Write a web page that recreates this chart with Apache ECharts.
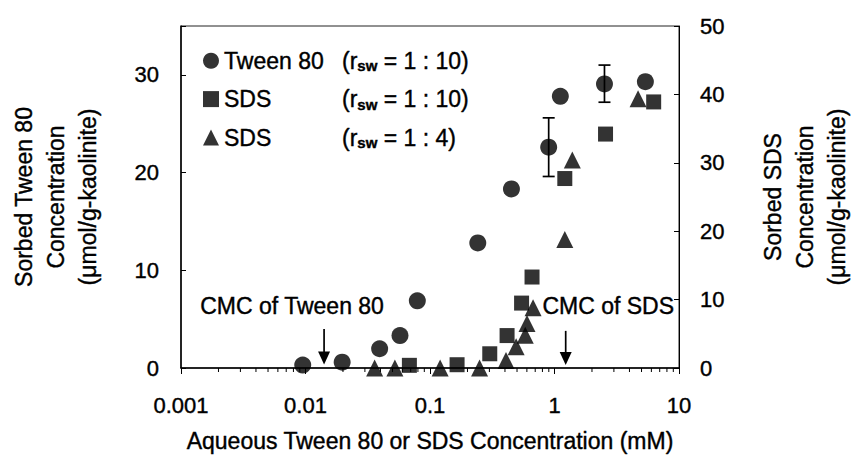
<!DOCTYPE html>
<html><head><meta charset="utf-8">
<script src="https://cdn.jsdelivr.net/npm/echarts@6/dist/echarts.min.js"></script>
<style>html,body{margin:0;padding:0;background:#fff}#c{width:861px;height:459px}</style>
</head><body><div id="c"></div>
<script>
// ---- data ----
const xTickLabels = [0.001, 0.01, 0.1, 1, 10];
const leftTicks = [0, 10, 20, 30];
const rightTicks = [0, 10, 20, 30, 40, 50];
const minorTickValues = [];
[0.001, 0.01, 0.1, 1].forEach(d => { for (let k = 2; k <= 9; k++) minorTickValues.push(+(d * k).toPrecision(3)); });

const seriesNames = ['Tween 80 (1:10)', 'SDS (1:10)', 'SDS (1:4)'];
const legendNames = ['Tween 80', 'SDS', 'SDS'];
const legendRatios = ['1 : 10', '1 : 10', '1 : 4'];

const tweenX = [0.0095, 0.0197, 0.0394, 0.0574, 0.0791, 0.242, 0.451, 0.898, 1.114, 2.52, 5.37];
const tweenY = [0.3, 0.6, 1.97, 3.32, 6.88, 12.8, 18.33, 22.6, 27.8, 29.07, 29.3];
const tweenErrX = [0.898, 2.52];
const tweenErrLow = [19.6, 27.2];
const tweenErrHigh = [25.6, 31.0];

const sds10X = [0.0683, 0.165, 0.302, 0.416, 0.544, 0.66, 1.21, 2.57, 6.26];
const sds10Y = [0.39, 0.48, 2.08, 4.74, 9.49, 13.3, 27.7, 34.2, 38.9];

const sds4X = [0.0359, 0.0522, 0.1206, 0.25, 0.408, 0.492, 0.582, 0.601, 0.673, 1.21, 1.39, 4.69];
const sds4Y = [0, 0, 0, 0, 1.1, 3.1, 4.8, 6.5, 8.8, 18.8, 30.4, 39.35];

const cmcText = ['CMC of Tween 80', 'CMC of SDS'];
const cmcX = [0.0141, 1.23];
const cmcArrowTop = [4.0, 3.8];
const cmcArrowTip = [0.35, 0.3];
const cmcTextX = [0.0078, 2.7];
const cmcTextY = [6.3, 6.3];

// ---- chart ----
const FONT = '"Liberation Sans", Arial, Helvetica, sans-serif';
const FS = 23;   // titles, legend, annotations
const TS = 22;   // tick labels
const TB = {textBorderColor: '#000', textBorderWidth: 0.4};
const chart = echarts.init(document.getElementById('c'), null, {renderer: 'svg'});

const zip = (a, b) => a.map((v, i) => [v, b[i]]);

chart.setOption({
  animation: false,
  backgroundColor: '#fff',
  textStyle: {fontFamily: FONT, color: '#000'},
  grid: {left: 170, right: 164, top: 26, bottom: 91, show: true, borderColor: '#222', borderWidth: 1},
  legend: {
    orient: 'vertical', left: 198, top: 44, itemGap: 14, itemWidth: 16, itemHeight: 16,
    data: seriesNames,
    formatter: name => {
      const i = seriesNames.indexOf(name);
      return `{n|${legendNames[i]}}{p|(r}{s|sw}{p| = ${legendRatios[i]})}`;
    },
    textStyle: Object.assign({
      fontFamily: FONT, fontSize: FS, color: '#000',
      rich: {
        n: Object.assign({fontFamily: FONT, fontSize: FS, width: 118, color: '#000'}, TB),
        p: Object.assign({fontFamily: FONT, fontSize: FS, color: '#000'}, TB),
        s: {fontFamily: FONT, fontSize: 15, fontWeight: 'bold', color: '#000', padding: [10, 0, 0, 0]}
      }
    }, TB)
  },
  xAxis: {
    type: 'log', logBase: 10, min: 0.001, max: 10,
    name: 'Aqueous Tween 80 or SDS Concentration (mM)', nameLocation: 'middle', nameGap: 61,
    nameTextStyle: Object.assign({fontFamily: FONT, fontSize: FS, color: '#000'}, TB),
    axisLine: {show: true, lineStyle: {color: '#000', width: 1.5}},
    axisTick: {show: true, inside: false, length: 6, lineStyle: {color: '#000', width: 1}},
    axisLabel: Object.assign({fontFamily: FONT, fontSize: TS, color: '#000', margin: 26,
      formatter: v => { const m = xTickLabels.find(t => Math.abs(t - v) / t < 1e-6); return m !== undefined ? String(m) : ''; }}, TB),
    splitLine: {show: false}
  },
  yAxis: [{
    type: 'value', min: 0, max: 35, interval: 10, position: 'left',
    name: 'Sorbed Tween 80\nConcentration\n(\u03bcmol/g-kaolinite)', nameLocation: 'middle', nameRotate: 90, nameGap: 77,
    nameTextStyle: Object.assign({fontFamily: FONT, fontSize: FS, color: '#000', lineHeight: 32}, TB),
    axisLine: {show: true, lineStyle: {color: '#000', width: 1.5}},
    axisTick: {show: true, inside: true, length: 5, lineStyle: {color: '#000'}},
    axisLabel: Object.assign({fontFamily: FONT, fontSize: TS, color: '#000', margin: 22, formatter: v => leftTicks.includes(v) ? String(v) : ''}, TB),
    splitLine: {show: false}
  }, {
    type: 'value', min: 0, max: 50, interval: 10, position: 'right',
    name: 'Sorbed SDS\nConcentration\n(\u03bcmol/g-kaolinite)', nameLocation: 'middle', nameRotate: 90, nameGap: 78,
    nameTextStyle: Object.assign({fontFamily: FONT, fontSize: FS, color: '#000', lineHeight: 32}, TB),
    axisLine: {show: true, lineStyle: {color: '#000', width: 1}},
    axisTick: {show: true, inside: true, length: 5, lineStyle: {color: '#000'}},
    axisLabel: Object.assign({fontFamily: FONT, fontSize: TS, color: '#000', margin: 21, formatter: v => rightTicks.includes(v) ? String(v) : ''}, TB),
    splitLine: {show: false}
  }],
  series: [
    {
      type: 'custom', name: 'minorTicks', silent: true, yAxisIndex: 0, clip: false,
      data: minorTickValues.map(v => [v, 0]),
      renderItem: (params, api) => {
        const p = api.coord([api.value(0), 0]);
        return {type: 'line', shape: {x1: p[0], y1: p[1], x2: p[0], y2: p[1] + 4}, style: {stroke: '#000', lineWidth: 1}};
      }
    },
    {
      type: 'custom', name: 'errorBars', silent: true, yAxisIndex: 0,
      data: tweenErrX.map((x, i) => [x, tweenErrLow[i], tweenErrHigh[i]]),
      renderItem: (params, api) => {
        const lo = api.coord([api.value(0), api.value(1)]);
        const hi = api.coord([api.value(0), api.value(2)]);
        const w = 6;
        const st = {stroke: '#000', lineWidth: 1.7};
        return {type: 'group', children: [
          {type: 'line', shape: {x1: lo[0], y1: lo[1], x2: hi[0], y2: hi[1]}, style: st},
          {type: 'line', shape: {x1: lo[0] - w, y1: lo[1], x2: lo[0] + w, y2: lo[1]}, style: st},
          {type: 'line', shape: {x1: hi[0] - w, y1: hi[1], x2: hi[0] + w, y2: hi[1]}, style: st}
        ]};
      }
    },
    {
      type: 'scatter', name: seriesNames[0], yAxisIndex: 0, symbol: 'circle', symbolSize: 17,
      itemStyle: {color: '#000'}, data: zip(tweenX, tweenY)
    },
    {
      type: 'scatter', name: seriesNames[1], yAxisIndex: 1, symbol: 'rect', symbolSize: 15,
      itemStyle: {color: '#000'}, data: zip(sds10X, sds10Y)
    },
    {
      type: 'scatter', name: seriesNames[2], yAxisIndex: 1, symbol: 'triangle', symbolSize: 17,
      itemStyle: {color: '#000'}, data: zip(sds4X, sds4Y)
    },
    {
      type: 'custom', name: 'cmc', silent: true, yAxisIndex: 0, clip: false,
      data: cmcX.map((x, i) => [x, cmcArrowTop[i], cmcArrowTip[i], cmcTextX[i], cmcTextY[i]]),
      renderItem: (params, api) => {
        const top = api.coord([api.value(0), api.value(1)]);
        const tip = api.coord([api.value(0), api.value(2)]);
        const tp = api.coord([api.value(3), api.value(4)]);
        const ah = 13, aw = 6;
        return {type: 'group', children: [
          {type: 'line', shape: {x1: top[0], y1: top[1], x2: tip[0], y2: tip[1] - ah + 2}, style: {stroke: '#000', lineWidth: 1.7}},
          {type: 'polygon', shape: {points: [[tip[0] - aw, tip[1] - ah], [tip[0] + aw, tip[1] - ah], [tip[0], tip[1]]]}, style: {fill: '#000'}},
          {type: 'text', x: tp[0], y: tp[1], style: Object.assign({text: cmcText[params.dataIndex], fontFamily: FONT, fontSize: FS, fill: '#000', stroke: '#000', lineWidth: 0.4, align: 'center', verticalAlign: 'middle'})}
        ]};
      }
    }
  ]
});
</script>
</body></html>
